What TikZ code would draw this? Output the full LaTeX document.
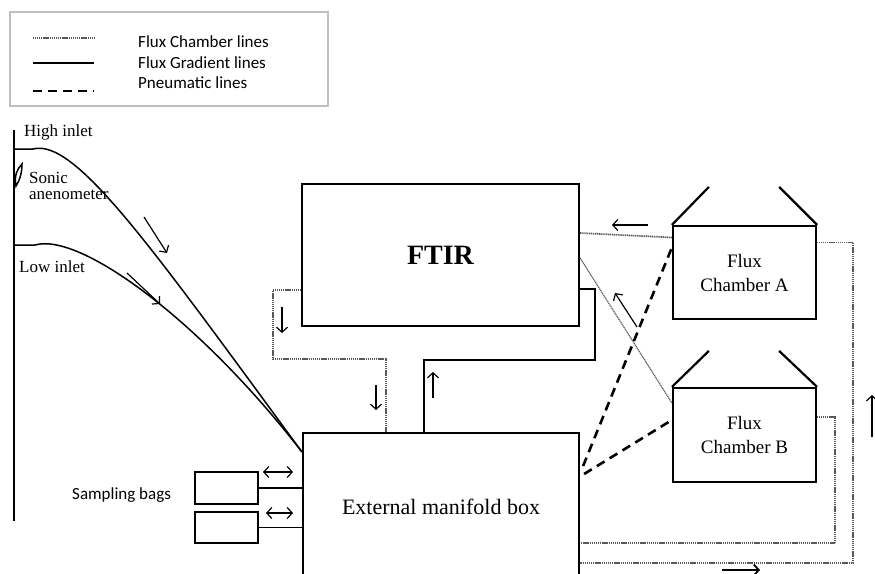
\documentclass[tikz,border=0pt]{standalone}
\usepackage{fontspec}
\setmainfont{Liberation Serif}
\newfontfamily\calibri{Carlito}
\usetikzlibrary{arrows.meta}

\tikzset{
  unitbox/.style={draw, line width=2.2pt, inner sep=0pt},
  fcline/.style={draw=black!65, line width=1.7pt, dash pattern=on 1.2pt off 0.7pt},
  fgline/.style={line width=1.5pt},
  pnline/.style={line width=2.6pt, dash pattern=on 9pt off 6pt},
  flowarrow/.style={-{Straight Barb[length=5pt,width=11pt]}, line width=1.2pt},
  bothflow/.style={{Straight Barb[length=5pt,width=11pt]}-{Straight Barb[length=5pt,width=11pt]}, line width=1.2pt},
  sertext/.style={font=\fontsize{17}{16}\selectfont, inner sep=0pt},
  legtext/.style={font=\calibri\fontsize{17}{18}\selectfont, inner sep=0pt, anchor=west},
}

\begin{document}
\begin{tikzpicture}[x=1pt,y=-1pt,line join=miter]
\useasboundingbox (0,0) rectangle (875,573);
%%
\node (legend) at (169,59) [draw=black!25, line width=1.2pt, minimum width=318pt, minimum height=94pt] {};
\draw [fcline] (33,38) -- (94,38);
\draw [fgline, line width=1.8pt] (33,63) -- (94,63);
\draw [pnline, dash pattern=on 9pt off 6pt] (33,91) -- (94,91);
\node (leg_fc) at (138,42) [legtext] {Flux Chamber lines};
\node (leg_fg) at (138,63) [legtext] {Flux Gradient lines};
\node (leg_pn) at (138,83) [legtext] {Pneumatic lines};
%
\node (ftir) at (440.5,255) [unitbox, minimum width=277pt, minimum height=142pt, font=\bfseries\fontsize{28}{30}\selectfont] {FTIR};
\node (manifold) at (441,520) [unitbox, minimum width=276pt, minimum height=174pt] {};
\node (manifold_txt) at (441,507) [font=\fontsize{22}{24}\selectfont, inner sep=0pt] {External manifold box};
\node (chA) at (744.5,272.5) [unitbox, minimum width=143pt, minimum height=93pt, align=center, font=\fontsize{19}{24}\selectfont] {Flux\\Chamber A};
\node (chB) at (744.5,435) [unitbox, minimum width=143pt, minimum height=94pt, align=center, font=\fontsize{19}{24}\selectfont] {Flux\\Chamber B};
\node (bag1) at (226.5,488) [unitbox, line width=1.8pt, minimum width=63pt, minimum height=32pt] {};
\node (bag2) at (226.5,527.5) [unitbox, line width=1.8pt, minimum width=63pt, minimum height=31pt] {};
%
\draw [unitbox] (chA.north west) -- ++(37,-38);
\draw [unitbox] (chA.north east) -- ++(-38,-38);
\draw [unitbox] (chB.north west) -- ++(37,-36);
\draw [unitbox] (chB.north east) -- ++(-38,-36);
%
% mast and inlets
\draw [fgline, line width=2pt] (14,130) -- (14,521);
\draw [fgline] (14,149) -- (33,149) .. controls (75,138) and (150,245) .. ([yshift=-20pt]manifold.north west);
\draw [fgline] (14,245) -- (35,245) .. controls (80,232) and (200,320) .. ([yshift=-20pt]manifold.north west);
\draw [fgline] (16,186) .. controls (14,176) and (17,169) .. (22,164) .. controls (22,172) and (20,180) .. cycle;
\node (high_lbl) at (24,132) [sertext, anchor=west] {High inlet};
\node (sonic_lbl) at (29,186) [sertext, anchor=west, align=left] {Sonic\\anenometer};
\node (low_lbl) at (19,267) [sertext, anchor=west] {Low inlet};
\draw [flowarrow] (144,217) -- (167,253);
\draw [flowarrow] (127,273) -- (160,304);
%
% sampling bags
\node (bags_lbl) at (72,495) [legtext] {Sampling bags};
\draw [fgline] (bag1.east) -- (bag1.east -| manifold.west);
\draw [fgline] (bag2.east) -- (bag2.east -| manifold.west);
\draw [bothflow] (263,472) -- (293,472);
\draw [bothflow] (266,513) -- (293,513);
%
% FTIR <-> manifold
\draw [fcline] ([yshift=-35pt]ftir.west) -- (273,290) -- (273,359) -- (386,359) -- (386,359 |- manifold.north);
\draw [fgline, line width=1.8pt] ([yshift=-34pt]ftir.east) -- (595,289) -- (595,360) -- (424,360) -- (424,360 |- manifold.north);
\draw [flowarrow] (282,307) -- (282,333);
\draw [flowarrow] (376,385) -- (376,410);
\draw [flowarrow] (433,398) -- (433,372);
%
% flux chamber lines
\draw [fcline] ([yshift=35pt]chA.west) -- ([yshift=22pt]ftir.east);
\draw [fcline, line width=1.2pt] ([yshift=-3pt]ftir.east) -- ([yshift=32pt]chB.west);
\draw [fcline] ([yshift=30pt]chA.east) -- (853,242.5) -- (853,563) -- (853,563 -| manifold.east);
\draw [fcline] ([yshift=18pt]chB.east) -- (835,417) -- (835,543) -- (835,543 -| manifold.east);
\draw [flowarrow] (648,225) -- (612,225);
\draw [flowarrow] (637,327) -- (615,293);
\draw [flowarrow] (872,437) -- (872,395);
\draw [flowarrow, line width=1.8pt] (722,570) -- (760,570);
%
% pneumatic lines
\draw [pnline] ([yshift=54pt]manifold.east) ++(3,0) -- ([yshift=25pt]chA.west);
\draw [pnline] ([yshift=46pt]manifold.east) ++(4,0) -- ([yshift=15pt]chB.west);
%
\end{tikzpicture}
\end{document}
